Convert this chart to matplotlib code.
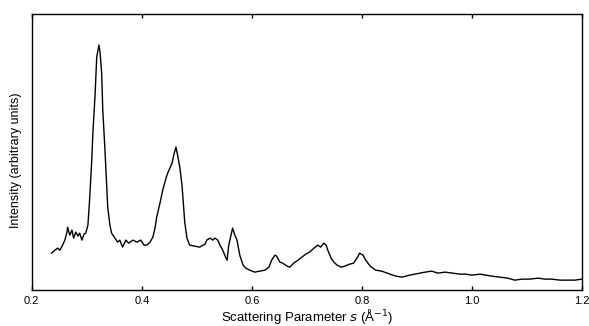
import matplotlib.pyplot as plt
import numpy as np

plt.rcParams['font.family'] = ['Liberation Sans', 'DejaVu Sans']

# scattering parameter s (1/Angstrom) and intensity (arbitrary units)
s = np.array([
    0.236, 0.242, 0.247, 0.251, 0.256, 0.260, 0.264, 0.265, 0.269, 0.273,
    0.276, 0.280, 0.284, 0.287, 0.291, 0.295, 0.298, 0.302, 0.305, 0.309,
    0.311, 0.315, 0.318, 0.322, 0.324, 0.327, 0.329, 0.333, 0.336, 0.338,
    0.342, 0.345, 0.351, 0.356, 0.360, 0.365, 0.371, 0.376, 0.384, 0.391,
    0.398, 0.404, 0.409, 0.415, 0.420, 0.424, 0.427, 0.433, 0.438, 0.444,
    0.447, 0.451, 0.455, 0.458, 0.462, 0.465, 0.469, 0.473, 0.475, 0.478,
    0.482, 0.487, 0.496, 0.505, 0.515, 0.518, 0.524, 0.529, 0.533, 0.538,
    0.542, 0.547, 0.553, 0.555, 0.558, 0.562, 0.565, 0.569, 0.573, 0.578,
    0.584, 0.589, 0.596, 0.605, 0.615, 0.624, 0.631, 0.636, 0.642, 0.645,
    0.651, 0.656, 0.664, 0.669, 0.676, 0.684, 0.691, 0.698, 0.705, 0.713,
    0.720, 0.725, 0.731, 0.735, 0.738, 0.744, 0.749, 0.755, 0.762, 0.769,
    0.778, 0.785, 0.791, 0.796, 0.802, 0.807, 0.815, 0.825, 0.836, 0.851,
    0.862, 0.873, 0.887, 0.905, 0.915, 0.927, 0.938, 0.951, 0.964, 0.978,
    0.989, 1.000, 1.015, 1.025, 1.036, 1.051, 1.065, 1.078, 1.091, 1.105,
    1.120, 1.133, 1.145, 1.160, 1.175, 1.187, 1.200,
])
intensity = np.array([
    37, 40, 42, 40, 45, 50, 58, 63, 55, 60,
    52, 58, 54, 57, 50, 56, 57, 65, 90, 130,
    157, 195, 233, 245, 238, 217, 180, 140, 105, 83,
    65, 57, 52, 48, 50, 43, 50, 47, 50, 48,
    50, 45, 45, 48, 53, 62, 73, 87, 100, 112,
    117, 122, 127, 135, 143, 135, 123, 105, 90, 68,
    52, 45, 44, 43, 46, 50, 52, 50, 52, 50,
    45, 40, 32, 30, 45, 55, 62, 55, 50, 35,
    25, 22, 20, 18, 19, 20, 23, 30, 35, 34,
    28, 27, 24, 23, 27, 30, 33, 36, 38, 42,
    45, 43, 47, 45, 40, 32, 28, 25, 23, 24,
    26, 27, 32, 37, 35, 30, 24, 20, 19, 16,
    14, 13, 15, 17, 18, 19, 17, 18, 17, 16,
    16, 15, 16, 15, 14, 13, 12, 10, 11, 11,
    12, 11, 11, 10, 10, 10, 11,
])

fig = plt.figure(figsize=(5.89, 3.26), dpi=100)
ax = fig.add_axes([0.054, 0.11, 0.934, 0.847])

ax.plot(s, intensity, color='black', linewidth=1.0)

ax.set_xlim(0.2, 1.2)
ax.set_ylim(0, 276)
ax.set_xticks([0.2, 0.4, 0.6, 0.8, 1.0, 1.2])
ax.set_xticklabels(['0.2', '0.4', '0.6', '0.8', '1.0', '1.2'])
ax.set_yticks([])
ax.tick_params(axis='x', direction='in', length=3, width=1, top=True,
               labelsize=8, pad=4)
for side in ax.spines.values():
    side.set_linewidth(1.0)

ax.set_xlabel(r'Scattering Parameter $\it{s}$ (Å$^{-1}$)', fontsize=9.5, labelpad=1)
ax.set_ylabel('Intensity (arbitrary units)', fontsize=9)
ax.yaxis.set_label_coords(-0.018, 0.47)

fig.savefig('out.png', dpi=100)
